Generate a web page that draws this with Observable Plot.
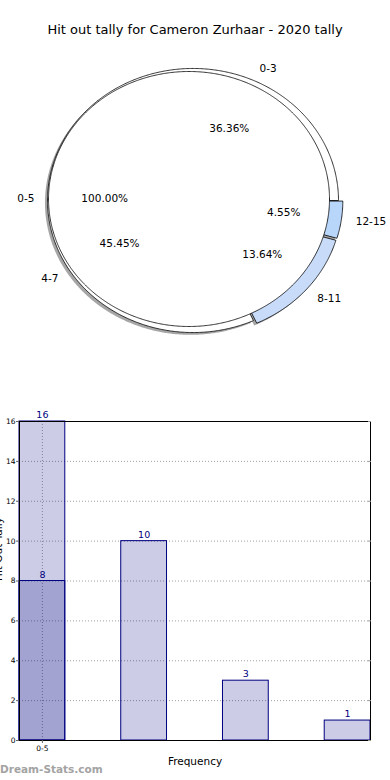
<!DOCTYPE html>
<html><head><meta charset="utf-8">
<script src="https://cdn.jsdelivr.net/npm/d3@7"></script>
<script src="https://cdn.jsdelivr.net/npm/@observablehq/plot@0.6"></script>
<style>
body{margin:0;background:#fff;font-family:"DejaVu Sans",sans-serif;}
#wrap{position:relative;width:390px;height:780px;overflow:hidden;background:#fff;}
#title{position:absolute;top:22px;left:0;width:390px;text-align:center;font-size:13px;line-height:16px;color:#000;}
#pie{position:absolute;top:0;left:0;}
#bar{position:absolute;top:390px;left:0;}
#wm{position:absolute;left:0;top:763px;font-size:10.5px;line-height:13px;font-weight:bold;color:#a3a3a3;}
</style></head><body>
<div id="wrap"><div id="pie"></div><div id="bar"></div>
<div id="title">Hit out tally for Cameron Zurhaar - 2020 tally</div>
<div id="wm">Dream-Stats.com</div></div>
<script>
// ---- data ----
const outerLabels = ["0-3", "4-7", "8-11", "12-15"];
const outerValues = [8, 10, 3, 1];
const outerColors = ["#ffffff", "#ffffff", "#c8dcfa", "#b8d5fa"];
const outerExplode = [0, 0, 0.03, 0.03];
const innerLabels = ["0-5"];
const innerValues = [1];
const innerColors = ["#ffffff"];

const barPositions = [0, 1, 2, 3];
const barValues = [16, 10, 3, 1];
const overlayPositions = [0];
const overlayValues = [8];
const xTickLabels = ["0-5"];
const yTicks = [0, 2, 4, 6, 8, 10, 12, 14, 16];

// ---- pie geometry (unit = inner pie radius) ----
const outerCenter = [0.0285, -0.0118];
const outerR = 1.0356;
const innerCenter = [0, 0];
const innerR = 1;
const rad = Math.PI / 180;

function makeSlices(labels, values, colors, explode, center, R) {
  const total = d3.sum(values);
  let acc = 0;
  return values.map((v, i) => {
    const a0 = acc / total * 360; acc += v; const a1 = acc / total * 360;
    const mid = (a0 + a1) / 2;
    const ex = explode ? explode[i] : 0;
    const cx = center[0] + ex * R * Math.cos(mid * rad);
    const cy = center[1] + ex * R * Math.sin(mid * rad);
    return {label: labels[i], v, a0, a1, mid, pct: v / total * 100, color: colors[i], cx, cy, R};
  });
}
function slicePts(s, off = [0, 0]) {
  const pts = [];
  const full = s.a1 - s.a0 >= 359.999;
  if (!full) pts.push({x: s.cx + off[0], y: s.cy + off[1]});
  const n = Math.max(2, Math.ceil((s.a1 - s.a0) / 0.5));
  for (let k = 0; k <= n; k++) {
    const a = (s.a0 + (s.a1 - s.a0) * k / n) * rad;
    pts.push({x: s.cx + s.R * Math.cos(a) + off[0], y: s.cy + s.R * Math.sin(a) + off[1]});
  }
  if (!full) pts.push({x: s.cx + off[0], y: s.cy + off[1]});
  return pts;
}

const outer = makeSlices(outerLabels, outerValues, outerColors, outerExplode, outerCenter, outerR);
const inner = makeSlices(innerLabels, innerValues, innerColors, null, innerCenter, innerR);

const pieMarks = [];
for (const s of outer) {
  pieMarks.push(Plot.line(slicePts(s, [-0.018, -0.018]), {x: "x", y: "y", fill: "#4d4d4d", fillOpacity: 0.5, stroke: "none", curve: "linear"}));
}
for (const s of outer) {
  pieMarks.push(Plot.line(slicePts(s), {x: "x", y: "y", fill: s.color, stroke: "#000", strokeWidth: 0.8, curve: "linear"}));
}
for (const s of inner) {
  pieMarks.push(Plot.line(slicePts(s), {x: "x", y: "y", fill: s.color, stroke: "#000", strokeWidth: 0.8, curve: "linear"}));
}
const labelPts = [...outer, ...inner].map(s => ({
  x: s.cx + 1.1 * s.R * Math.cos(s.mid * rad),
  y: s.cy + 1.1 * s.R * Math.sin(s.mid * rad),
  text: s.label, right: Math.cos(s.mid * rad) >= 0
}));
const pctPts = [...outer, ...inner].map(s => ({
  x: s.cx + 0.6 * s.R * Math.cos(s.mid * rad),
  y: s.cy + 0.6 * s.R * Math.sin(s.mid * rad),
  text: s.pct.toFixed(2) + "%"
}));
const tStyle = {fontSize: 10.5, fill: "#000", lineAnchor: "middle"};
pieMarks.push(Plot.text(labelPts.filter(d => d.right), {x: "x", y: "y", text: "text", textAnchor: "start", ...tStyle}));
pieMarks.push(Plot.text(labelPts.filter(d => !d.right), {x: "x", y: "y", text: "text", textAnchor: "end", ...tStyle}));
pieMarks.push(Plot.text(pctPts, {x: "x", y: "y", text: "text", textAnchor: "middle", ...tStyle}));

const pxX = 140.5, pxY = 127.5, cX = 188.5, cY = 198.5;
const pie = Plot.plot({
  width: 390, height: 390, margin: 0,
  style: {fontFamily: "DejaVu Sans", background: "transparent"},
  x: {domain: [-cX / pxX, (390 - cX) / pxX], range: [0, 390], axis: null},
  y: {domain: [-(390 - cY) / pxY, cY / pxY], range: [390, 0], axis: null},
  marks: pieMarks
});
document.getElementById("pie").appendChild(pie);

// ---- bar chart ----
const bars = barPositions.map((x, i) => ({x, v: barValues[i]}));
const overlay = overlayPositions.map((x, i) => ({x, v: overlayValues[i]}));
const hw = 0.225;
const navy = "#000080";
const bar = Plot.plot({
  width: 390, height: 390,
  marginLeft: 19, marginRight: 20, marginTop: 31, marginBottom: 40,
  style: {fontFamily: "DejaVu Sans", fontSize: "7.5px", background: "transparent", color: "#000"},
  x: {domain: [-hw, 3 + hw], axis: null},
  y: {domain: [0, 16], axis: null},
  marks: [
    Plot.ruleY(yTicks.filter(t => t > 0 && t < 16), {stroke: "#a0a0a0", strokeDasharray: "1,2", strokeWidth: 1}),
    Plot.ruleX([barPositions[0]], {stroke: "#a0a0a0", strokeDasharray: "1,2", strokeWidth: 1}),
    Plot.rect(bars, {x1: d => d.x - hw, x2: d => d.x + hw, y1: 0, y2: "v", fill: navy, fillOpacity: 0.2, stroke: navy, strokeWidth: 1}),
    Plot.rect(overlay, {x1: d => d.x - hw, x2: d => d.x + hw, y1: 0, y2: "v", fill: navy, fillOpacity: 0.2, stroke: navy, strokeWidth: 1}),
    Plot.text([...bars, ...overlay], {x: "x", y: "v", text: d => String(d.v), fill: navy, fontSize: 9.5, lineAnchor: "bottom", dy: -3.5}),
    Plot.frame({stroke: "#000", strokeWidth: 1}),
    Plot.axisY({ticks: yTicks, tickSize: 3, tickPadding: 1, label: null, stroke: "#666"}),
    Plot.axisY({ticks: yTicks, anchor: "right", tickSize: -3, tickFormat: () => "", label: null, stroke: "#999"}),
    Plot.axisX({ticks: [barPositions[0]], tickFormat: (d, i) => xTickLabels[i], tickSize: 3, tickPadding: 2, label: null, stroke: "#666"}),
    Plot.text(["Frequency"], {frameAnchor: "bottom", dy: 21, fontSize: 10.5, lineAnchor: "middle", fill: "#000"}),
    Plot.text(["Hit Out Tally"], {frameAnchor: "left", dx: -18, rotate: -90, fontSize: 10.5, lineAnchor: "bottom", fill: "#000"})
  ]
});
document.getElementById("bar").appendChild(bar);
</script>
</body></html>
